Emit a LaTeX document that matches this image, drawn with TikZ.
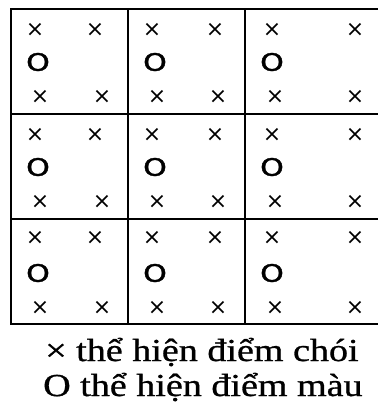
\documentclass[tikz,border=0pt]{standalone}
\usepackage{fontspec}
\setmainfont{Liberation Serif}[FakeBold=0.8]
\newfontfamily\marksfont{DejaVu Sans}
\newfontfamily\ringfont{DejaVu Sans}[FakeBold=1.5]
\begin{document}
\begin{tikzpicture}[x=1pt,y=-1pt,
  crossmark/.style={inner sep=0pt,font=\marksfont\fontsize{22}{22}\selectfont},
  ringmark/.style={inner sep=0pt,xscale=1.25,font=\ringfont\fontsize{24}{24}\selectfont},
  legend/.style={inner sep=0pt,anchor=base west,xscale=1.19,font=\fontsize{32}{32}\selectfont}]
\useasboundingbox (0,0) rectangle (378,408);
\begin{scope}
\clip (0,0) rectangle (378,408);
% grid
\draw[line width=1.4pt] (128,9) -- (128,323) (245,9) -- (245,323)
  (11,114) -- (390,114) (11,219) -- (390,219);
\draw[line width=2.8pt] (390,9) -- (11,9) -- (11,324) -- (390,324);
% marks
\foreach \r/\ya/\yo/\yb in {1/30/62/97, 2/135/167/202, 3/238/273/308}{
  \foreach \c/\xa/\xb/\xo/\xc/\xd in {1/35/95/38/40/102, 2/152/215/155/157/218, 3/272/355/272/275/355}{
    \node[crossmark] (ta\r\c) at (\xa,\ya) {×};
    \node[crossmark] (tb\r\c) at (\xb,\ya) {×};
    \node[ringmark] (o\r\c) at (\xo,\yo) {O};
    \node[crossmark] (bc\r\c) at (\xc,\yb) {×};
    \node[crossmark] (bd\r\c) at (\xd,\yb) {×};
  }
}
\end{scope}
\node[legend] (l1) at (45,361) {× thể hiện điểm chói};
\node[legend] (l2) at (43,396) {O thể hiện điểm màu};
\end{tikzpicture}
\end{document}
